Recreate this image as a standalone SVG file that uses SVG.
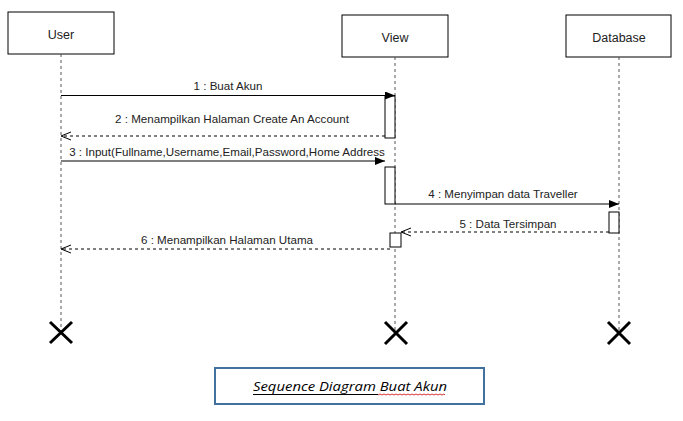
<svg xmlns="http://www.w3.org/2000/svg" width="683" height="421" viewBox="0 0 683 421">
<defs>
<style>
.box{fill:#fff;stroke:#000;stroke-width:1}
.life{stroke:#555;stroke-width:1;stroke-dasharray:3,3;fill:none}
.act{fill:#fff;stroke:#000;stroke-width:1}
.msg{stroke:#000;stroke-width:1;fill:none}
.ret{stroke:#000;stroke-width:1;fill:none;stroke-dasharray:3,3}
.nm{font-family:"Liberation Sans",Arial,sans-serif;font-size:12.5px;fill:#222;text-anchor:middle}
.lbl{font-family:"Liberation Sans",Arial,sans-serif;font-size:11.6px;fill:#222;text-anchor:middle}
.x{stroke:#000;stroke-width:3;fill:none}
</style>
<marker id="fill" markerWidth="10" markerHeight="8" refX="10" refY="4" orient="auto" markerUnits="userSpaceOnUse">
<path d="M0,0 L10,4 L0,8 Z" fill="#000"/>
</marker>
<marker id="open" markerWidth="12" markerHeight="10" refX="11" refY="5" orient="auto" markerUnits="userSpaceOnUse">
<path d="M1,1 L11,5 L1,9" fill="none" stroke="#000" stroke-width="1"/>
</marker>
</defs>
<rect width="683" height="421" fill="#fff"/>

<g id="user">
<rect class="box" x="8" y="12" width="106" height="42"/>
<text class="nm" x="61" y="39">User</text>
<line class="life" x1="61" y1="54" x2="61" y2="332"/>
<path class="x" d="M50,322 L72,343 M72,322 L50,343"/>
</g>

<g id="view">
<rect class="box" x="342" y="15" width="106" height="42"/>
<text class="nm" x="395" y="42">View</text>
<line class="life" x1="395" y1="57" x2="395" y2="333"/>
<path class="x" d="M385,322 L407,344 M407,322 L385,344"/>
<rect class="act" x="385" y="96" width="10" height="42"/>
<rect class="act" x="385" y="167" width="10" height="37"/>
<rect class="act" x="390" y="233" width="11" height="14"/>
</g>

<g id="database">
<rect class="box" x="566" y="15" width="105" height="42"/>
<text class="nm" x="619" y="42">Database</text>
<line class="life" x1="619" y1="57" x2="619" y2="333"/>
<path class="x" d="M608,322 L630,344 M630,322 L608,344"/>
<rect class="act" x="609" y="212" width="10" height="21"/>
</g>

<g id="connectors">
<line class="msg" x1="61" y1="95.5" x2="395" y2="95.5" marker-end="url(#fill)"/>
<text class="lbl" x="228" y="90">1 : Buat Akun</text>
<line class="ret" x1="385" y1="136" x2="61" y2="136" marker-end="url(#open)"/>
<text class="lbl" x="232" y="123">2 : Menampilkan Halaman Create An Account</text>
<line class="msg" x1="61" y1="161" x2="385" y2="161" marker-end="url(#fill)"/>
<text class="lbl" x="227" y="156">3 : Input(Fullname,Username,Email,Password,Home Address</text>
<line class="msg" x1="395" y1="204" x2="619" y2="204" marker-end="url(#fill)"/>
<text class="lbl" x="503" y="198">4 : Menyimpan data Traveller</text>
<line class="ret" x1="609" y1="232" x2="401" y2="232" marker-end="url(#open)"/>
<text class="lbl" x="508" y="228">5 : Data Tersimpan</text>
<line class="ret" x1="390" y1="249" x2="61" y2="249" marker-end="url(#open)"/>
<text class="lbl" x="227" y="244">6 : Menampilkan Halaman Utama</text>
</g>

<g id="caption">
<rect x="215" y="368" width="269" height="36" fill="#fff" stroke="#41719C" stroke-width="2"/>
<text x="350" y="391" font-family="'Open Sans','Noto Sans',sans-serif" font-style="italic" font-size="13" fill="#000" text-anchor="middle" textLength="194" lengthAdjust="spacingAndGlyphs">Sequence Diagram Buat Akun</text>
<line x1="253" y1="394.5" x2="378" y2="394.5" stroke="#000" stroke-width="1"/>
<path d="M378,395 l2,-1 l2,1 l2,-1 l2,1 l2,-1 l2,1 l2,-1 l2,1 l2,-1 l2,1 l2,-1 l2,1 l2,-1 l2,1 l2,-1 l2,1 l2,-1 l2,1 l2,-1 l2,1 l2,-1 l2,1 l2,-1 l2,1 l2,-1 l2,1 l2,-1 l2,1 l2,-1 l2,1 l2,-1 l2,1 l2,-1 l1,1" fill="none" stroke="#c00" stroke-width="0.8"/>
</g>
</svg>
